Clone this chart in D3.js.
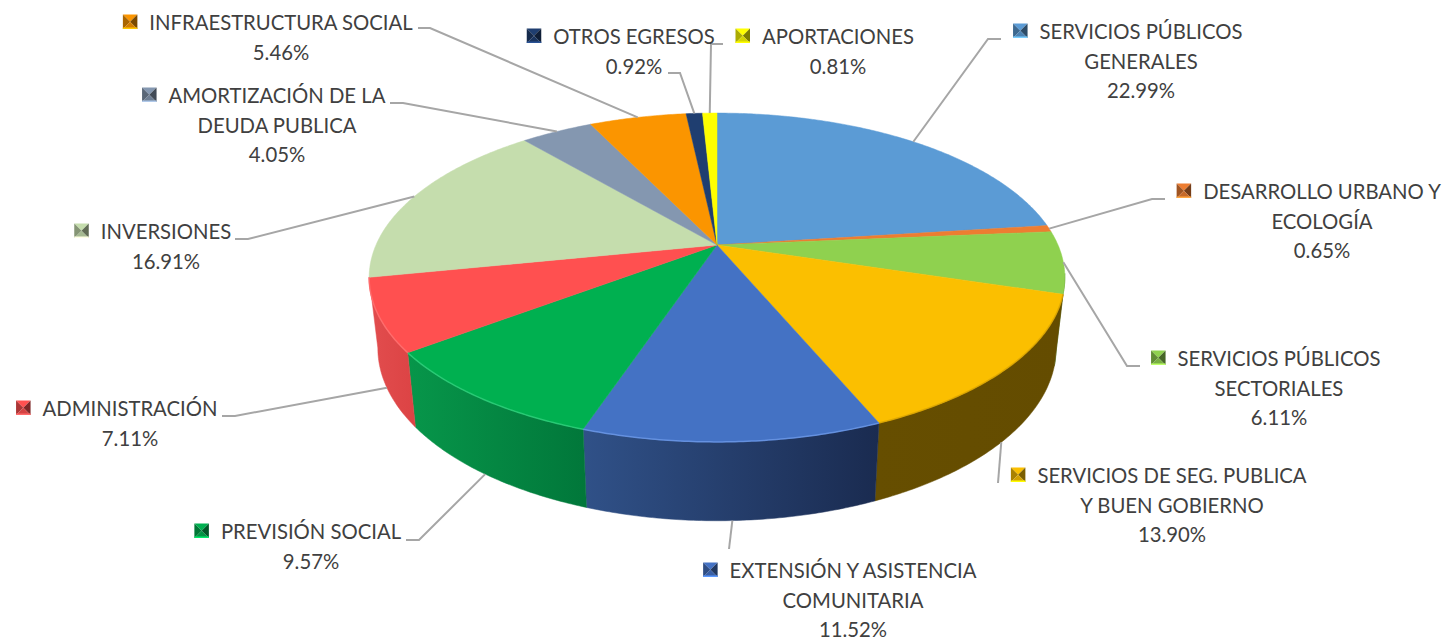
<!DOCTYPE html>
<html>
<head>
    <meta charset="utf-8">
    <script src="https://d3js.org/d3.v7.min.js"></script>
    <style>
        html, body { margin: 0; padding: 0; background: #fff; overflow: hidden; }
        svg { display: block; }
        text { font-family: Lato, "Open Sans", sans-serif; font-size: 20.3px; fill: #404040; }
    </style>
</head>
<body>
    <svg width="1442" height="639"></svg>
<script>
    const width = 1442, height = 639;

    const categories = [
        "SERVICIOS PÚBLICOS GENERALES", "DESARROLLO URBANO Y ECOLOGÍA", "SERVICIOS PÚBLICOS SECTORIALES",
        "SERVICIOS DE SEG. PUBLICA Y BUEN GOBIERNO", "EXTENSIÓN Y ASISTENCIA COMUNITARIA", "PREVISIÓN SOCIAL",
        "ADMINISTRACIÓN", "INVERSIONES", "AMORTIZACIÓN DE LA DEUDA PUBLICA", "INFRAESTRUCTURA SOCIAL",
        "OTROS EGRESOS", "APORTACIONES"
    ];
    const values = [22.99, 0.65, 6.11, 13.90, 11.52, 9.57, 7.11, 16.91, 4.05, 5.46, 0.92, 0.81];

    const topColors = ["#5b9bd5", "#ed7d31", "#8fd14f", "#fbbf00", "#4472c4", "#00b050",
        "#ff5050", "#c5ddad", "#8497b0", "#fb9500", "#1f3e70", "#ffff00"];
    // wall shading, left to right. only the slices facing us have one
    const wallColors = {
        2: ["#4f7a2c", "#4f7a2c"],
        3: ["#664e00", "#644c00"],
        4: ["#305188", "#1a2b50"],
        5: ["#07964a", "#01773a"],
        6: ["#e24d4e", "#dc4344"]
    };
    const rimColors = { 3: "#d9a400", 4: "#6c98e8", 5: "#2fd07c", 6: "#ff7070" };

    // label placement: text centre, baseline of first line, wrapped lines
    const labelLayout = [
        { cx: 1141, y: 39, lines: ["SERVICIOS PÚBLICOS", "GENERALES"], elbow: [988, 39], end: [1001, 39] },
        { cx: 1322, y: 199, lines: ["DESARROLLO URBANO Y", "ECOLOGÍA"], elbow: [1152, 199], end: [1165, 199] },
        { cx: 1279, y: 366, lines: ["SERVICIOS PÚBLICOS", "SECTORIALES"], elbow: [1127, 366], end: [1140, 366] },
        { cx: 1172, y: 483, lines: ["SERVICIOS DE SEG. PUBLICA", "Y BUEN GOBIERNO"], elbow: [998, 483], end: [998, 483] },
        { cx: 853, y: 578, lines: ["EXTENSIÓN Y ASISTENCIA", "COMUNITARIA"], elbow: [729, 549], end: [729, 549] },
        { cx: 311, y: 539, lines: ["PREVISIÓN SOCIAL"], elbow: [419, 540], end: [406, 540] },
        { cx: 130, y: 416, lines: ["ADMINISTRACIÓN"], elbow: [235, 416], end: [222, 416] },
        { cx: 166, y: 239, lines: ["INVERSIONES"], elbow: [248, 239], end: [235, 239] },
        { cx: 277, y: 103, lines: ["AMORTIZACIÓN DE LA", "DEUDA PUBLICA"], elbow: [403, 103], end: [390, 103] },
        { cx: 281, y: 30, lines: ["INFRAESTRUCTURA SOCIAL"], elbow: [430, 28], end: [418, 28] },
        { cx: 634, y: 44, lines: ["OTROS EGRESOS"], elbow: [680, 73], end: [668, 73] },
        { cx: 838, y: 44, lines: ["APORTACIONES"], elbow: [711, 44], end: [723, 44] }
    ];

    const svg = d3.select("svg");
    const defs = svg.append("defs");

    // tilted disc with some perspective: near side is bigger than far side
    const cx = 717, cy = 245, rx = 341, ry = 158, persp = 0.1976;
    const wallDepth = 314, wallScaleX = 0.975, wallScaleY = 1.05;
    // which part of the rim can be seen
    const visFrom = 100 * Math.PI / 180, visTo = 260 * Math.PI / 180;

    function topPoint(a) {
        const x = Math.sin(a), y = -Math.cos(a), d = 1 - persp * y;
        return [cx + rx * x / d, cy + ry * y / d];
    }
    function bottomPoint(a) {
        const p = topPoint(a);
        return [cx + wallScaleX * (p[0] - cx), wallDepth + wallScaleY * (p[1] - cy)];
    }
    function arcAngles(a0, a1) {
        const n = Math.max(2, Math.ceil((a1 - a0) / 0.01));
        return d3.range(n + 1).map(i => a0 + (a1 - a0) * i / n);
    }

    const line = d3.line();
    const pie = d3.pie().sort(null).value(d => d);
    const slices = pie(values);

    // walls first
    const walls = svg.append("g");
    slices.forEach((s, i) => {
        if (!wallColors[i]) return;
        const a0 = Math.max(s.startAngle, visFrom), a1 = Math.min(s.endAngle, visTo);
        const angles = arcAngles(a0, a1);
        const pts = angles.map(topPoint).concat(angles.slice().reverse().map(bottomPoint));
        const xs = d3.extent(pts, p => p[0]);
        const grad = defs.append("linearGradient")
            .attr("id", "wall" + i)
            .attr("gradientUnits", "userSpaceOnUse")
            .attr("x1", xs[0]).attr("x2", xs[1]).attr("y1", 0).attr("y2", 0);
        grad.append("stop").attr("offset", "0%").attr("stop-color", wallColors[i][0]);
        grad.append("stop").attr("offset", "100%").attr("stop-color", wallColors[i][1]);
        walls.append("path")
            .attr("d", line(pts) + "Z")
            .attr("fill", "url(#wall" + i + ")")
            .attr("stroke", "url(#wall" + i + ")")
            .attr("stroke-width", 0.5);
    });

    // top faces
    const faces = svg.append("g");
    slices.forEach((s, i) => {
        const pts = [[cx, cy]].concat(arcAngles(s.startAngle, s.endAngle).map(topPoint));
        faces.append("path")
            .attr("d", line(pts) + "Z")
            .attr("fill", topColors[i])
            .attr("stroke", topColors[i])
            .attr("stroke-width", 0.5);
    });

    // bevel highlight along the front edge
    slices.forEach((s, i) => {
        if (!rimColors[i]) return;
        const a0 = Math.max(s.startAngle, visFrom), a1 = Math.min(s.endAngle, visTo);
        faces.append("path")
            .attr("d", line(arcAngles(a0, a1).map(topPoint)))
            .attr("fill", "none")
            .attr("stroke", rimColors[i])
            .attr("stroke-width", 1.5)
            .attr("opacity", 0.8);
    });

    // leader lines start at the middle of the slice, on the rim if it faces us
    const leaders = svg.append("g");
    slices.forEach((s, i) => {
        const mid = (s.startAngle + s.endAngle) / 2;
        const start = (mid > visFrom && mid < visTo) ? bottomPoint(mid) : topPoint(mid);
        const l = labelLayout[i];
        leaders.append("path")
            .attr("d", line([start, l.elbow, l.end]))
            .attr("fill", "none")
            .attr("stroke", "#a6a6a6")
            .attr("stroke-width", 2);
    });

    // labels
    const lineHeight = 29.6, keySize = 14.5, keyGap = 12;
    const labels = svg.append("g");
    slices.forEach((s, i) => {
        const l = labelLayout[i];
        const g = labels.append("g");
        const rows = l.lines.concat([d3.format(".2f")(s.data) + "%"]);
        let firstWidth = 0;
        rows.forEach((row, r) => {
            const t = g.append("text")
                .attr("x", l.cx)
                .attr("y", l.y + r * lineHeight)
                .attr("text-anchor", "middle")
                .text(row);
            if (r == 0) firstWidth = t.node().getComputedTextLength();
        });
        // legend key: small square shaded like a pyramid
        const x0 = l.cx - firstWidth / 2 - keyGap - keySize, y0 = l.y - keySize - 1;
        const x1 = x0 + keySize, y1 = y0 + keySize, mx = x0 + keySize / 2, my = y0 + keySize / 2;
        const c = d3.color(topColors[i]);
        const tris = [
            [[x0, y0], [x1, y0], [mx, my], c.formatHex()],
            [[x0, y0], [x0, y1], [mx, my], c.darker(1.1).formatHex()],
            [[x1, y0], [x1, y1], [mx, my], c.darker(2).formatHex()],
            [[x0, y1], [x1, y1], [mx, my], c.darker(0.5).formatHex()]
        ];
        tris.forEach(t => {
            g.append("path")
                .attr("d", line(t.slice(0, 3)) + "Z")
                .attr("fill", t[3]);
        });
        g.append("rect")
            .attr("x", x0).attr("y", y1 - 1.5)
            .attr("width", keySize).attr("height", 1.5)
            .attr("fill", c.brighter(0.8).formatHex());
    });
</script>
</body>
</html>
